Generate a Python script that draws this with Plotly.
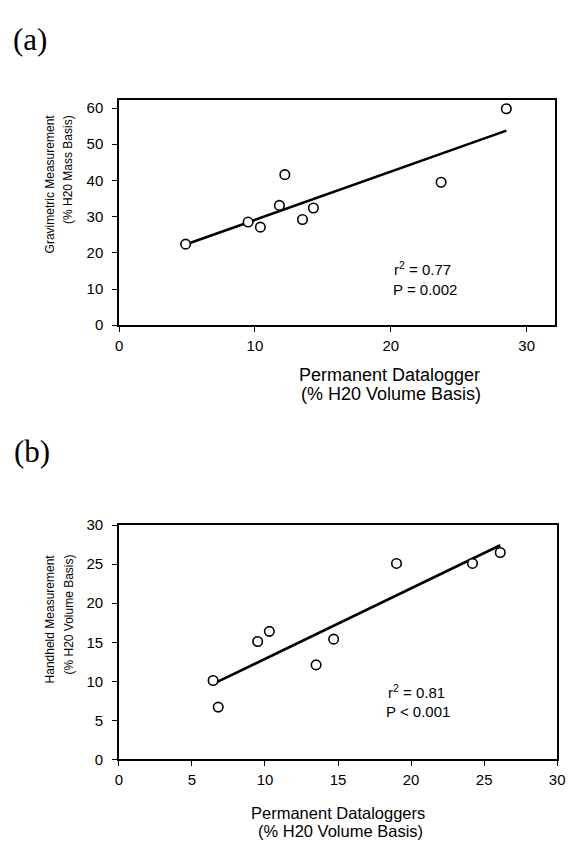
import numpy as np
import plotly.graph_objects as go

W, H = 575, 850

# Panel (a): permanent datalogger vs gravimetric
a_x = [4.9, 9.5, 10.4, 11.8, 12.2, 13.5, 14.3, 23.7, 28.5]
a_y = [22.4, 28.5, 27.1, 33.1, 41.6, 29.2, 32.4, 39.5, 59.8]
a_stats = ["r<sup>2</sup> = 0.77", "P = 0.002"]

# Panel (b): permanent dataloggers vs handheld
b_x = [6.45, 6.8, 9.5, 10.3, 13.5, 14.7, 19.0, 24.2, 26.1]
b_y = [10.1, 6.7, 15.1, 16.4, 12.1, 15.4, 25.1, 25.1, 26.5]
b_stats = ["r<sup>2</sup> = 0.81", "P < 0.001"]

a_xtitle = ["Permanent Datalogger", "(% H20 Volume Basis)"]
a_ytitle = ["Gravimetric Measurement", "(% H20 Mass Basis)"]
b_xtitle = ["Permanent Dataloggers", "(% H20 Volume Basis)"]
b_ytitle = ["Handheld Measurement", "(% H20 Volume Basis)"]

FONT = "Liberation Sans, Arial, sans-serif"


def px(x):
    return x / W


def py(y):
    return 1 - y / H


def fit_line(xs, ys):
    k, b = np.polyfit(xs, ys, 1)
    xx = np.array([min(xs), max(xs)])
    return xx, k * xx + b


fig = go.Figure()

for (xs, ys, xa, ya) in [(a_x, a_y, "x", "y"), (b_x, b_y, "x2", "y2")]:
    lx, ly = fit_line(xs, ys)
    fig.add_trace(go.Scatter(x=lx, y=ly, mode="lines", xaxis=xa, yaxis=ya,
                             line=dict(color="black", width=2.6),
                             showlegend=False, hoverinfo="skip"))
    fig.add_trace(go.Scatter(x=xs, y=ys, mode="markers", xaxis=xa, yaxis=ya,
                             marker=dict(symbol="circle", size=9.5, color="white",
                                         line=dict(color="black", width=1.6)),
                             showlegend=False))

axis_common = dict(showline=True, linecolor="black", linewidth=1.5, mirror=True,
                   ticks="outside", ticklen=5, tickwidth=1.2, tickcolor="black",
                   showgrid=False, zeroline=False,
                   tickfont=dict(family=FONT, size=15, color="black"))

fig.update_layout(
    width=W, height=H,
    margin=dict(l=0, r=0, t=0, b=0),
    paper_bgcolor="white", plot_bgcolor="white",
    xaxis=dict(domain=[px(117.5), px(563)], range=[0, 32.1], dtick=10, tick0=0,
               anchor="y", ticklabelstandoff=1, **axis_common),
    yaxis=dict(domain=[py(322.7), py(93.3)], range=[0, 62.1], dtick=10, tick0=0,
               anchor="x", ticklabelstandoff=6, **axis_common),
    xaxis2=dict(domain=[px(117.3), px(565)], range=[0, 30], dtick=5, tick0=0,
                anchor="y2", ticklabelstandoff=1, **axis_common),
    yaxis2=dict(domain=[py(765.7), py(526.7)], range=[0, 30], dtick=5, tick0=0,
                anchor="x2", ticklabelstandoff=6, **axis_common),
)

ann = []


def txt(text, x, y, size, xanchor="center", yanchor="middle", angle=0, family=FONT):
    ann.append(dict(text=text, x=px(x), y=py(y), xref="paper", yref="paper",
                    showarrow=False, xanchor=xanchor, yanchor=yanchor,
                    textangle=angle, font=dict(family=family, size=size, color="black")))


# panel labels
txt("(a)", 27, 31, 31, family="Liberation Serif, Times New Roman, serif")
txt("(b)", 29, 452, 31, family="Liberation Serif, Times New Roman, serif")

# stats
txt(a_stats[0], 427, 265, 15)
txt(a_stats[1], 430, 286, 15)
txt(b_stats[0], 421, 696, 15)
txt(b_stats[1], 423, 717, 15)

# x titles
txt(a_xtitle[0], 394, 373, 18)
txt(a_xtitle[1], 395, 393, 18)
txt(b_xtitle[0], 341.5, 820, 16.5)
txt(b_xtitle[1], 344, 839, 16.5)

# y titles (rotated, end-aligned at the top)
txt(a_ytitle[0], 47, 106, 12, yanchor="top", angle=-90)
txt(a_ytitle[1], 66, 106, 12, yanchor="top", angle=-90)
txt(b_ytitle[0], 47, 555, 12, yanchor="top", angle=-90)
txt(b_ytitle[1], 66, 555, 12, yanchor="top", angle=-90)

fig.update_layout(annotations=ann)

fig.write_html("out.html")
